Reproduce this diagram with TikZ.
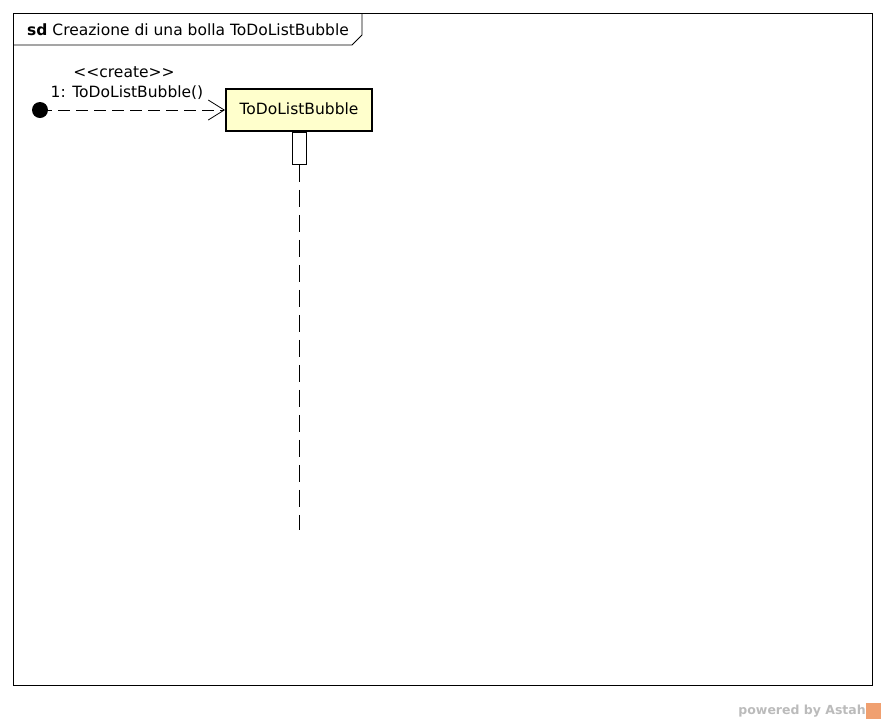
\documentclass[tikz,border=0pt]{standalone}
\usepackage{fontspec}
\setmainfont{DejaVu Sans}
\usetikzlibrary{arrows.meta}
\definecolor{lifefill}{HTML}{FFFFCC}
\definecolor{footgray}{HTML}{BBBBBB}
\definecolor{astahorange}{HTML}{F0A070}
\begin{document}
\begin{tikzpicture}[x=1pt,y=-1pt,
  lbl/.style={inner sep=0pt,font=\fontsize{15.5}{18}\selectfont},
  frameline/.style={line width=0.8pt},
  lifebox/.style={draw,line width=2pt,fill=lifefill,minimum width=146pt,minimum height=42pt,inner sep=0pt,font=\fontsize{15.5}{18}\selectfont},
  actbar/.style={draw,line width=0.8pt,fill=white,minimum width=14pt,minimum height=32pt,inner sep=0pt},
  msg/.style={line width=0.8pt,dash pattern=on 12pt off 6pt,-{Straight Barb[length=16pt,width=20pt,line width=0.8pt]}},
  lifeline/.style={line width=0.8pt,dash pattern=on 17pt off 8pt}]
\useasboundingbox (0,0) rectangle (886,724);
% frame
\draw[frameline] (13,13) rectangle (872,685);
\draw[frameline] (13,45) -- (352,45) -- (362,35) -- (362,13);
\node[lbl,anchor=west] (title) at (27,30) {\textbf{sd} Creazione di una bolla ToDoListBubble};
% lifeline
\node[lifebox] (obj) at (299,110) {\raisebox{3pt}{ToDoListBubble}};
\node[actbar,anchor=north] (act) at (obj.south) {};
\coordinate (lifeend) at (299,530);
\draw[lifeline] (act.south) -- (lifeend);
% found message
\node[circle,fill=black,minimum size=16pt,inner sep=0pt] (start) at (40,110) {};
\draw[msg] (start.center) -- (obj.west);
\node[lbl] (stereo) at (124,72) {<{}<create>{}>};
\node[lbl] (mname) at (127,93) {1: ToDoListBubble()};
% footer
\node[lbl,anchor=east,text=footgray,font=\fontsize{12.5}{14}\selectfont\bfseries] (foot) at (866,711) {powered by Astah};
\node[fill=astahorange,minimum width=15pt,minimum height=16pt,inner sep=0pt,anchor=west] (logo) at (foot.east) {};
\end{tikzpicture}
\end{document}
